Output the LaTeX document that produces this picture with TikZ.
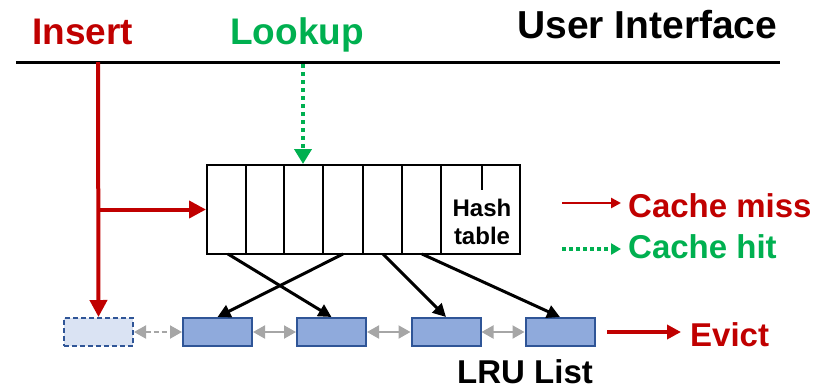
\documentclass[tikz,border=0pt]{standalone}
\usepackage{fontspec}
\setmainfont{Liberation Sans}
\usetikzlibrary{arrows.meta}

\definecolor{missred}{HTML}{C00000}
\definecolor{hitgreen}{HTML}{00B050}
\definecolor{lrufill}{HTML}{8FAADC}
\definecolor{lruline}{HTML}{2F5597}
\definecolor{newfill}{HTML}{DAE3F3}
\definecolor{linkgray}{HTML}{A6A6A6}

\tikzset{
    bigtext/.style={inner sep=0pt, font=\fontsize{37}{40}\selectfont\bfseries},
    midtext/.style={inner sep=0pt, font=\fontsize{33}{36}\selectfont\bfseries},
    miss/.style={color=missred, line width=4pt, -{Triangle[length=17pt, width=17pt]}},
    hit/.style={color=hitgreen, line width=4pt, dash pattern=on 4pt off 4pt, -{Triangle[length=15pt, width=17pt]}},
    lru/.style={draw=lruline, fill=lrufill, line width=2pt, minimum width=69pt, minimum height=28pt, inner sep=0pt},
    link/.style={color=linkgray, line width=2pt, {Triangle[length=12pt, width=13pt]}-{Triangle[length=12pt, width=13pt]}},
    pointer/.style={line width=3pt, -{Triangle[length=13pt, width=13pt]}}
}

\begin{document}
\begin{tikzpicture}[x=1pt, y=-1pt]

    \useasboundingbox (0,0) rectangle (818,389);

    % user interface
    \node[bigtext, color=missred, anchor=base west] (insert) at (32,44) {Insert};
    \node[bigtext, color=hitgreen, anchor=base west] (lookup) at (230,44) {Lookup};
    \node[bigtext, font=\fontsize{39}{42}\selectfont\bfseries, anchor=base west] (ui) at (517,38) {User Interface};

    \coordinate (ui0) at (16,62);
    \coordinate (ui1) at (780,62);
    \draw[line width=3pt] (ui0) -- (ui1);

    % hash table
    \node[draw, line width=2pt, minimum width=313pt, minimum height=89pt, inner sep=0pt] (hash) at (363.5,209.5) {};

    \draw[line width=2pt] (245.7,165) -- (245.7,254);
    \draw[line width=2pt] (284.3,165) -- (284.3,254);
    \draw[line width=2pt] (323.3,165) -- (323.3,254);
    \draw[line width=2pt] (362.7,165) -- (362.7,254);
    \draw[line width=2pt] (401.7,165) -- (401.7,254);
    \draw[line width=2pt] (440.7,165) -- (440.7,254);
    \draw[line width=2pt] (481.7,165) -- (481.7,190);

    \node[fill=white, minimum width=70pt, minimum height=62pt, inner sep=0pt, align=center,
          font=\fontsize{24}{28}\selectfont\bfseries] (label) at (482,221.5) {Hash\\table};

    % lru list
    \node[lru, fill=newfill, dashed, dash pattern=on 5pt off 3pt] (l0) at (98.5,332) {};
    \node[lru] (l1) at (217.5,332) {};
    \node[lru] (l2) at (331.5,332) {};
    \node[lru] (l3) at (446,332) {};
    \node[lru] (l4) at (560,332) {};

    \draw[link, dashed, dash pattern=on 5pt off 3pt] (l0) -- (l1);
    \draw[link] (l1) -- (l2);
    \draw[link] (l2) -- (l3);
    \draw[link] (l3) -- (l4);

    \node[midtext, anchor=base west] (lrulist) at (457,383) {LRU List};

    % pointers from the buckets
    \coordinate (b1) at (228,254);
    \coordinate (b2) at (343,254);
    \coordinate (b3) at (383,254);
    \coordinate (b4) at (422,254);
    \draw[pointer] (b1) -- (l2.north);
    \draw[pointer] (b2) -- (l1.north);
    \draw[pointer] (b3) -- (l3.north);
    \draw[pointer] (b4) -- (l4.north);

    % insert and lookup paths
    \coordinate (ins) at (98,62);
    \coordinate (branch) at (98,209.5);
    \draw[miss] (ins) -- (l0.north);
    \draw[miss] (branch) -- (hash.west);

    \coordinate (look) at (303,64);
    \draw[hit] (look) -- (look |- hash.north);

    % legend
    \coordinate (m0) at (562,203);
    \coordinate (m1) at (621,203);
    \draw[color=missred, line width=2.5pt, -{Triangle[length=10pt, width=10pt]}] (m0) -- (m1);
    \node[midtext, color=missred, anchor=base west] (misstext) at (628,217) {Cache miss};

    \coordinate (h0) at (562,249);
    \coordinate (h1) at (621,249);
    \draw[color=hitgreen, line width=3.5pt, dash pattern=on 3.5pt off 3.5pt, -{Triangle[length=10pt, width=11pt]}] (h0) -- (h1);
    \node[midtext, color=hitgreen, anchor=base west] (hittext) at (628,258) {Cache hit};

    \coordinate (e0) at (607,332);
    \coordinate (e1) at (681,332);
    \draw[color=missred, line width=4pt, -{Triangle[length=14pt, width=14pt]}] (e0) -- (e1);
    \node[midtext, color=missred, anchor=base west] (evict) at (690,346) {Evict};

\end{tikzpicture}
\end{document}
